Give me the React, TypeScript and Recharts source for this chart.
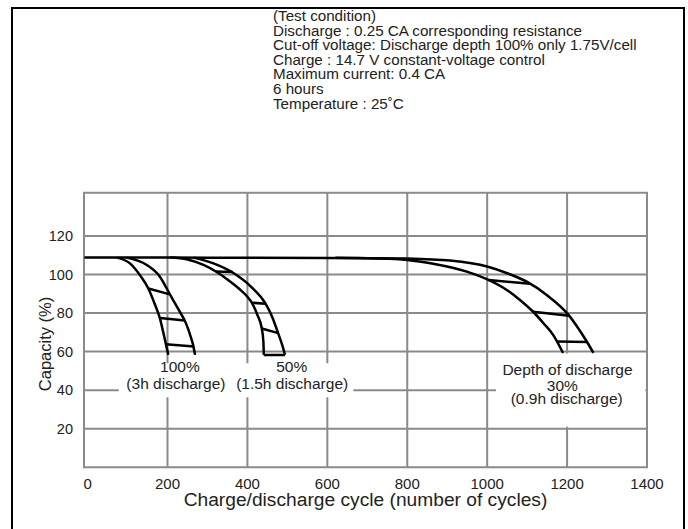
import {
  LineChart,
  Line,
  XAxis,
  YAxis,
  CartesianGrid,
  ReferenceArea,
  ReferenceDot,
} from "recharts";

// [cycle, capacity %]
const baseLine = [[-8, 108.8], [200, 108.8], [400, 108.7], [600, 108.6], [800, 108.4]];

const depth100Inner = [[73, 108.8], [106, 105.8], [131, 99.7], [152, 92.8], [169, 84.2], [181, 77.3], [191, 68.5], [202, 58.3]];
const depth100Outer = [[98, 108.8], [148, 105], [181, 98.9], [206, 89.7], [230, 81], [246, 74.8], [258, 67.8], [264, 63.5], [269, 58.3]];

const depth50Inner = [[206, 108.8], [250, 107.8], [290, 105], [321, 101.6], [350, 97.5], [380, 92.5], [400, 88.5], [411, 85.4], [425, 79], [436, 72], [440, 65], [441, 58.3]];
const depth50Outer = [[265, 108.8], [315, 105.8], [365, 100.8], [410, 93.5], [445, 85], [462, 78], [477, 69.5], [487, 63.5], [494, 58.3]];

const depth30Upper = [[800, 108.4], [907, 107.3], [1000, 104.2], [1050, 100.7], [1099, 96.3], [1149, 89.4], [1203, 79.2], [1230, 71.5], [1250, 65], [1266, 59.3]];
const depth30Lower = [[620, 108.7], [720, 108.4], [800, 107.6], [865, 105.6], [949, 101.5], [1003, 97.2], [1049, 92], [1082, 86.8], [1115, 80.7], [1142, 74.5], [1165, 68.7], [1190, 59.3]];

const hatches = [
  [[152, 92.8], [206, 89.7]],
  [[181, 77.5], [244, 76.2]],
  [[196, 63.8], [266, 62.6]],
  [[321, 101.6], [363, 101.3]],
  [[411, 85.4], [445, 84.8]],
  [[436, 72], [477, 69.6]],
  [[441, 58.3], [494, 58.3]],
  [[1003, 97.2], [1107, 95.2]],
  [[1115, 80.7], [1205, 78.6]],
  [[1174, 65.3], [1250, 65]],
];

const xTicks = [0, 200, 400, 600, 800, 1000, 1200, 1400];
const xGrid = [200, 400, 600, 800, 1000, 1200, 1400];
const yTicks = [20, 40, 60, 80, 100, 120];

const labels = [
  { text: "100%", cycle: 231, capacity: 52.2 },
  { text: "(3h discharge)", cycle: 221, capacity: 43.6 },
  { text: "50%", cycle: 511, capacity: 52.2 },
  { text: "(1.5h discharge)", cycle: 512, capacity: 43.6 },
  { text: "Depth of discharge", cycle: 1201, capacity: 50.5 },
  { text: "30%", cycle: 1188, capacity: 42.4 },
  { text: "(0.9h discharge)", cycle: 1199, capacity: 35.9 },
];

const conditions = [
  "(Test condition)",
  "Discharge : 0.25 CA corresponding resistance",
  "Cut-off voltage: Discharge depth 100% only 1.75V/cell",
  "Charge : 14.7 V constant-voltage control",
  "Maximum current: 0.4 CA",
  "6 hours",
  "Temperature : 25˚C",
];

const curves = [baseLine, depth100Inner, depth100Outer, depth50Inner, depth50Outer, depth30Upper, depth30Lower];

const toPoints = (arr: number[][]) => arr.map(([cycle, capacity]) => ({ cycle, capacity }));

const GRID = "#8a8a8a";
const FONT = "'Liberation Sans', Arial, Helvetica, sans-serif";

function XTitle(props: any) {
  const { viewBox } = props;
  return (
    <text
      x={viewBox.x + viewBox.width / 2}
      y={viewBox.y + 32}
      textAnchor="middle"
      dominantBaseline="central"
      fontSize={19.2}
      fill="#222"
    >
      Charge/discharge cycle (number of cycles)
    </text>
  );
}

function YTitle(props: any) {
  const { viewBox } = props;
  const cx = viewBox.x + 45;
  const cy = viewBox.y + viewBox.height / 2 + 14;
  return (
    <text
      x={cx}
      y={cy}
      transform={`rotate(-90, ${cx}, ${cy})`}
      textAnchor="middle"
      dominantBaseline="central"
      fontSize={16.5}
      fill="#222"
    >
      Capacity (%)
    </text>
  );
}

export default function App() {
  return (
    <div
      style={{
        position: "fixed",
        left: 0,
        top: 0,
        width: 688,
        height: 529,
        overflow: "hidden",
        background: "#fff",
        fontFamily: FONT,
      }}
    >
      <div
        style={{
          position: "absolute",
          left: 11,
          top: 7,
          width: 670,
          height: 540,
          border: "2px solid #000",
        }}
      />
      <div
        style={{
          position: "absolute",
          left: 273,
          top: 9,
          fontSize: 15.2,
          lineHeight: "14.6px",
          color: "#222",
          whiteSpace: "nowrap",
        }}
      >
        {conditions.map((c) => (
          <div key={c}>{c}</div>
        ))}
      </div>
      <div style={{ position: "absolute", left: 0, top: 0 }}>
        <LineChart
          width={688}
          height={529}
          margin={{ top: 192.7, right: 41, bottom: 0, left: 0 }}
        >
          <CartesianGrid
            stroke={GRID}
            strokeWidth={2}
            verticalValues={xGrid}
            horizontalValues={yTicks}
          />
          <XAxis
            type="number"
            dataKey="cycle"
            domain={[-9, 1400]}
            ticks={xTicks}
            allowDataOverflow
            tickLine={false}
            axisLine={false}
            tickSize={6}
            tickMargin={5}
            height={61.8}
            tick={{ fontSize: 15, fill: "#222" }}
            label={{ content: XTitle }}
          />
          <YAxis
            type="number"
            domain={[0, 142.5]}
            ticks={yTicks}
            allowDataOverflow
            tickLine={false}
            axisLine={false}
            tickSize={6}
            tickMargin={5}
            width={84}
            tick={{ fontSize: 14.5, fill: "#222" }}
            label={{ content: YTitle }}
          />

          <ReferenceArea x1={-9} x2={1400} y1={0} y2={142.5} fill="none" stroke={GRID} strokeWidth={2} />

          {/* white backing behind the in-plot labels */}
          <ReferenceArea x1={78} x2={665} y1={36.3} y2={54} fill="#fff" fillOpacity={1} stroke="none" />
          <ReferenceArea x1={1022} x2={1396} y1={21} y2={59} fill="#fff" fillOpacity={1} stroke="none" />

          {curves.map((c, i) => (
            <Line
              key={`c${i}`}
              data={toPoints(c)}
              dataKey="capacity"
              type="monotone"
              stroke="#000"
              strokeWidth={2.5}
              dot={false}
              activeDot={false}
              isAnimationActive={false}
            />
          ))}
          {hatches.map((h, i) => (
            <Line
              key={`h${i}`}
              data={toPoints(h)}
              dataKey="capacity"
              type="linear"
              stroke="#000"
              strokeWidth={2.5}
              dot={false}
              activeDot={false}
              isAnimationActive={false}
            />
          ))}

          {labels.map((l) => (
            <ReferenceDot
              key={l.text}
              x={l.cycle}
              y={l.capacity}
              r={0}
              fill="none"
              stroke="none"
              label={{ value: l.text, position: "center", fontSize: 15.5, fill: "#222" }}
            />
          ))}
        </LineChart>
      </div>
    </div>
  );
}
